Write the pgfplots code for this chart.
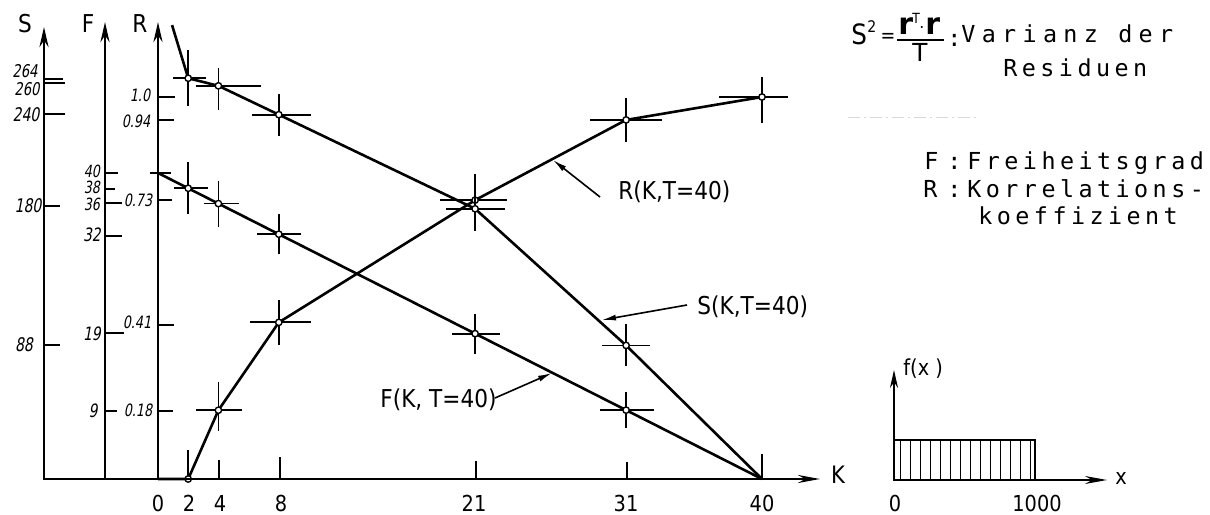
\documentclass[border=0pt]{standalone}
\usepackage{fontspec}
\setmainfont{DejaVu Sans}
\newfontfamily\mono[LetterSpace=19]{DejaVu Sans Mono}
\newfontfamily\monow[LetterSpace=27]{DejaVu Sans Mono}
\newfontfamily\cond[FakeStretch=0.88]{DejaVu Sans}
\newfontfamily\hand[FakeStretch=0.75,FakeSlant=0.18]{DejaVu Sans}
\newfontfamily\bsans{DejaVu Sans Bold}
\usepackage{pgfplots}
\pgfplotsset{compat=1.18}
\usepackage{pgfplotstable}
\usetikzlibrary{arrows.meta,patterns.meta}

\pgfplotstableread{
K R xm xp ym yp
0 0 0 0 0 0
2 0 0 0 0 0.076
4 0.18 1.46 1.59 0.055 0.073
8 0.41 1.92 2.12 0.058 0.058
21 0.73 2.32 2.12 0.03 0.068
31 0.94 2.38 2.38 0.058 0.058
40 1.0 2.85 1.72 0.068 0.052
}\Rdata

\pgfplotstableread{
K F xm xp ym yp
0 40 0.53 0.84 0 0
2 38 0.97 1.28 3.4 3.4
4 36 0.93 1.34 3.0 3.0
8 32 1.44 1.5 2.6 2.6
21 19 1.54 1.64 2.6 2.6
31 9 1.72 1.85 2.35 2.35
40 0 0 0 0 0
}\Fdata

\pgfplotstableread{
K S xm xp ym yp
0.93 299 0 0 0 0
2 264 1.0 1.2 18.4 18.4
4 259 1.5 2.8 15.8 11.9
8 240 1.8 2.1 13.8 13.8
21 178 1.9 2.0 14.5 14.5
31 88 1.6 1.6 13.8 13.8
40 0 0 0 0 16.5
}\Sdata

\pgfplotsset{
 base/.style={at={(0,0)}, anchor=south west, scale only axis, width=605pt, height=257pt,
   xmin=-10.4636, xmax=69.6689, axis lines=none, clip=false},
 curve/.style={black, line width=1.3pt, mark=*, mark size=1.6pt,
   mark options={fill=white, draw=black, line width=0.7pt, solid},
   error bars/x dir=both, error bars/y dir=both,
   error bars/x explicit, error bars/y explicit,
   error bars/error mark=none,
   error bars/error bar style={line width=0.9pt, black}}
}

\begin{document}
\begin{tikzpicture}
\useasboundingbox (0,0) rectangle (605pt,257pt);

% R axis (K vs R)
\begin{axis}[base, ymin=-0.09162, ymax=1.25393]
\addplot[mark indices={2,3,4,5,6,7}, curve] table[x=K,y=R,x error plus=xp,x error minus=xm,y error plus=yp,y error minus=ym]{\Rdata};
\end{axis}

% F axis
\begin{axis}[base, ymin=-4.5752, ymax=62.6144]
\addplot[mark indices={2,3,4,5,6}, curve] table[x=K,y=F,x error plus=xp,x error minus=xm,y error plus=yp,y error minus=ym]{\Fdata};
\end{axis}

% S axis
\begin{axis}[base, ymin=-23.0566, ymax=315.547]
\addplot[mark indices={2,3,4,5,6}, curve] table[x=K,y=S,x error plus=xp,x error minus=xm,y error plus=yp,y error minus=ym]{\Sdata};
\end{axis}

% inset f(x)
\begin{axis}[at={(0,0)}, anchor=south west, scale only axis, width=605pt, height=257pt,
  xmin=-6340.4, xmax=2241.1, ymin=-0.85, ymax=12, axis lines=none, clip=false]
\addplot[draw=black, line width=1pt, pattern={Lines[angle=90,distance=5pt,line width=0.5pt]}]
  coordinates {(0,0) (0,1) (1000,1) (1000,0)} \closedcycle;
\end{axis}

\begin{scope}[x=0.5pt,y=-0.5pt,yshift=257pt]
% main axes
\draw[line width=1.4pt, -{Stealth[length=10pt,width=4.5pt]}] (44,480) -- (44,27);
\draw[line width=1.4pt, -{Stealth[length=10pt,width=4.5pt]}] (105,480) -- (105,22);
\draw[line width=1.4pt, -{Stealth[length=10pt,width=4.5pt]}] (158,480) -- (158,22);
\draw[line width=1.4pt, -{Stealth[length=11pt,width=4pt]}] (43,479) -- (820,479);
\node[font=\cond\fontsize{12.3}{13}\selectfont] at (25,24) {S};
\node[font=\cond\fontsize{12.3}{13}\selectfont] at (88,24) {F};
\node[font=\cond\fontsize{12.3}{13}\selectfont] at (140,24) {R};
\node[font=\cond\fontsize{12}{13}\selectfont, anchor=base west] at (824,483) {K};

% ticks
\begin{scope}[line width=1.1pt]
\draw (44,79)--(63,79) (44,83)--(65,83) (44,114)--(65,114) (44,206)--(60,206) (44,345)--(60,345);
\draw (105,173)--(118,173) (105,189)--(115,189) (105,203)--(122,203) (105,236)--(122,236) (105,333)--(124,333) (105,411)--(117,411);
\draw (158,97)--(175,97) (158,120)--(174,120) (158,200)--(172,200) (158,325)--(174,325) (158,411)--(173,411);
\draw (219,479)--(219,460) (280,479)--(280,457) (476,479)--(476,461) (627,479)--(627,462);
\end{scope}

% tick labels
\begin{scope}[every node/.style={inner sep=0pt}]
\node[font=\hand\fontsize{8.8}{9}\selectfont] at (25,71) {264};
\node[font=\hand\fontsize{8.8}{9}\selectfont] at (27,89) {260};
\node[font=\hand\fontsize{9.4}{10}\selectfont] at (26,115) {240};
\node[font=\hand\fontsize{9.4}{10}\selectfont] at (28,206) {180};
\node[font=\hand\fontsize{9.4}{10}\selectfont] at (24,345) {88};
\node[font=\hand\fontsize{8.4}{9}\selectfont] at (92,171) {40};
\node[font=\hand\fontsize{8.4}{9}\selectfont] at (92,187) {38};
\node[font=\hand\fontsize{8.4}{9}\selectfont] at (92,204) {36};
\node[font=\hand\fontsize{9.2}{10}\selectfont] at (92,235) {32};
\node[font=\hand\fontsize{9.2}{10}\selectfont] at (92,334) {19};
\node[font=\hand\fontsize{9.2}{10}\selectfont] at (93,411) {9};
\node[font=\hand\fontsize{8.5}{10}\selectfont] at (140,95) {1.0};
\node[font=\hand\fontsize{8.5}{10}\selectfont] at (136,121) {0.94};
\node[font=\hand\fontsize{8.5}{10}\selectfont] at (138,200) {0.73};
\node[font=\hand\fontsize{8.5}{10}\selectfont] at (137,322) {0.41};
\node[font=\hand\fontsize{8.5}{10}\selectfont] at (138,410) {0.18};
\end{scope}
\begin{scope}[every node/.style={inner sep=0pt, anchor=base, font=\cond\fontsize{11}{12}\selectfont}]
\node at (158,511) {0};
\node at (189,511) {2};
\node at (220,511) {4};
\node at (281,511) {8};
\node at (474,511) {21};
\node at (626,511) {31};
\node at (762,511) {40};
\node at (895,511) {0};
\node at (1037,511) {1000};
\node at (1121,485) {x};
\end{scope}

% curve labels
\node[font=\cond\fontsize{12.3}{13}\selectfont, anchor=base west, inner sep=0] at (618,200) {R(K,T=40)};
\node[font=\cond\fontsize{12.3}{13}\selectfont, anchor=base west, inner sep=0] at (697,315) {S(K,T=40)};
\node[font=\cond\fontsize{12.3}{13}\selectfont, anchor=base west, inner sep=0] at (380,408) {F(K, T=40)};
\draw[line width=0.8pt, -{Latex[length=7pt,width=3pt]}] (600,197) -- (553,160);
\draw[line width=0.8pt, -{Latex[length=7pt,width=3pt]}] (687,305) -- (602,320);
\draw[line width=0.8pt, -{Latex[length=7pt,width=3pt]}] (495,398) -- (552,373);

% inset axes
\draw[line width=1pt, -{Stealth[length=9pt,width=4pt]}] (894,481) -- (894,370);
\draw[line width=1pt, -{Stealth[length=11pt,width=4pt]}] (893,480) -- (1107,480);
\node[font=\cond\fontsize{11}{12}\selectfont, anchor=base west, inner sep=0] at (903,376) {f(x )};

% legend text
\node[font=\cond\fontsize{14}{14}\selectfont, anchor=base west, inner sep=0] at (851,45) {S};
\node[font=\cond\fontsize{8}{8}\selectfont, anchor=base west, inner sep=0] at (867,33) {2};
\node[font=\cond\fontsize{10}{10}\selectfont, inner sep=0] at (888,38) {=};
\node[font=\bsans\fontsize{15}{15}\selectfont, anchor=base west, inner sep=0] at (898,35) {r};
\node[font=\cond\fontsize{7}{7}\selectfont, anchor=base west, inner sep=0] at (912,24) {T};
\node[font=\bsans\fontsize{10}{10}\selectfont, inner sep=0] at (922,28) {$\cdot$};
\node[font=\bsans\fontsize{15}{15}\selectfont, anchor=base west, inner sep=0] at (925,35) {r};
\draw[line width=1pt] (897,40) -- (944,40);
\node[font=\fontsize{12.4}{13}\selectfont, anchor=base, inner sep=0] at (920,62) {$\mathrm{T}$};
\draw[gray!30, line width=0.5pt, dash pattern=on 6pt off 2pt on 1pt off 2pt] (848,118) -- (978,118);
\node[font=\mono\fontsize{11.7}{13}\selectfont, anchor=base west, inner sep=0] at (947,47) {:};
\node[font=\monow\fontsize{11.7}{13}\selectfont, anchor=base west, inner sep=0] at (961,43) {Varianz der};
\begin{scope}[every node/.style={font=\mono\fontsize{11.7}{13}\selectfont, anchor=base west, inner sep=0}]
\node at (1003,77) {Residuen};
\node at (924,170) {F};
\node at (947,170) {:};
\node at (967,170) {Freiheitsgrad};
\node at (923,198) {R};
\node at (947,198) {:};
\node at (967,198) {Korrelations-};
\node at (978,225) {koeffizient};
\end{scope}
\end{scope}
\end{tikzpicture}
\end{document}
